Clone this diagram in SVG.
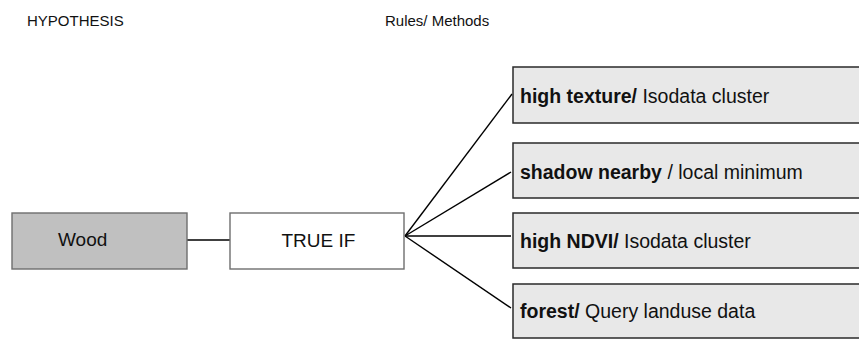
<svg xmlns="http://www.w3.org/2000/svg" width="859" height="340" viewBox="0 0 859 340">
<style>
  text { font-family: "Liberation Sans", Arial, sans-serif; fill: #111; }
  .hdr { font-size: 15px; }
  .lbl { font-size: 19px; }
  .rl { font-size: 19.5px; }
  .b { font-weight: bold; }
  .left { stroke: #6e6e6e; stroke-width: 1.4; }
  .rule { fill: #e8e8e8; stroke: #2a2a2a; stroke-width: 1.5; }
  .conn line { stroke: #000; stroke-width: 1.4; }
</style>
<rect width="859" height="340" fill="#ffffff"/>
<text class="hdr" x="27" y="26">HYPOTHESIS</text>
<text class="hdr" x="385" y="26">Rules/ Methods</text>
<g class="conn">
  <line x1="187" y1="240" x2="230" y2="240"/>
  <line x1="405" y1="236" x2="512" y2="94"/>
  <line x1="405" y1="236" x2="511" y2="172"/>
  <line x1="405" y1="236" x2="511" y2="236"/>
  <line x1="405" y1="236" x2="511" y2="308"/>
</g>
<g id="wood">
  <rect class="left" x="12" y="213" width="175" height="56" fill="#c0c0c0"/>
  <text class="lbl" x="58" y="246">Wood</text>
</g>
<g id="trueif">
  <rect class="left" x="230" y="213" width="174" height="56" fill="#ffffff"/>
  <text class="lbl" x="281.5" y="246.5">TRUE IF</text>
</g>
<g id="rule1">
  <rect class="rule" x="513" y="67" width="360" height="56"/>
  <text class="rl" x="520" y="103"><tspan class="b">high texture/</tspan> Isodata cluster</text>
</g>
<g id="rule2">
  <rect class="rule" x="513" y="143" width="360" height="55"/>
  <text class="rl" x="520" y="178.5"><tspan class="b">shadow nearby</tspan> / local minimum</text>
</g>
<g id="rule3">
  <rect class="rule" x="513" y="213" width="360" height="55"/>
  <text class="rl" x="520" y="248"><tspan class="b">high NDVI/</tspan> Isodata cluster</text>
</g>
<g id="rule4">
  <rect class="rule" x="513" y="284" width="360" height="54"/>
  <text class="rl" x="520" y="318"><tspan class="b">forest/</tspan> Query landuse data</text>
</g>
</svg>
